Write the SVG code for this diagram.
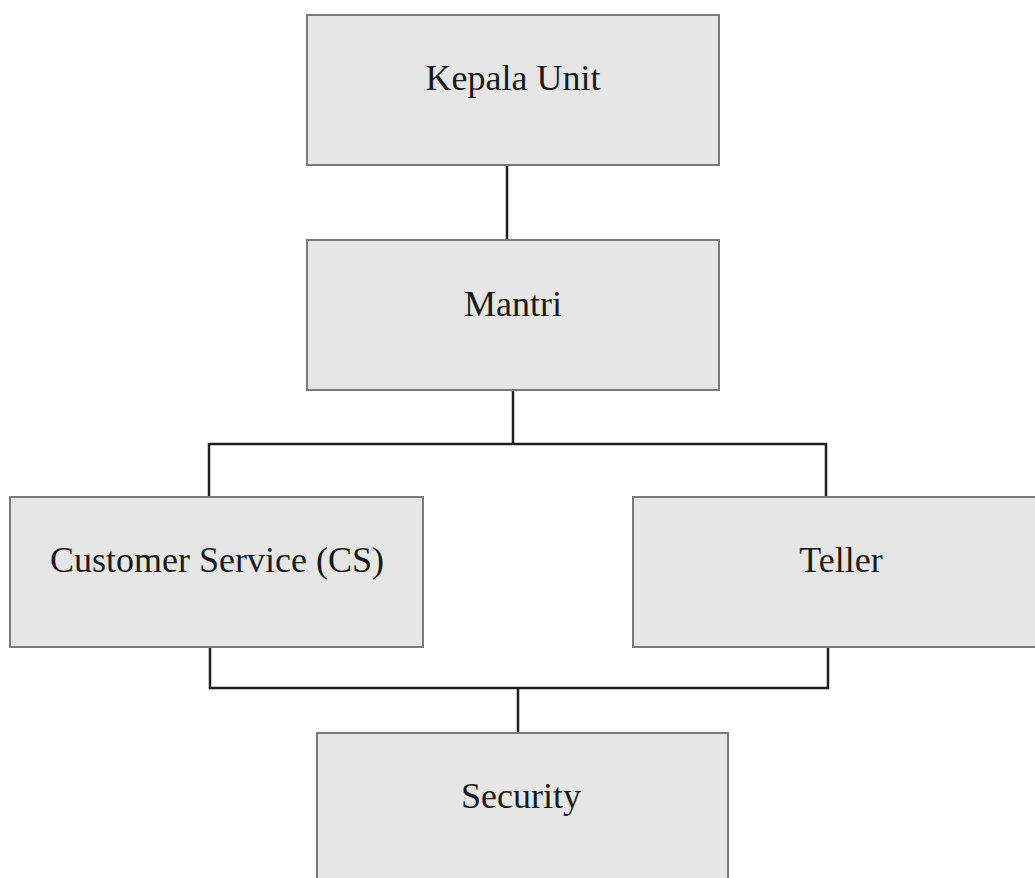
<svg xmlns="http://www.w3.org/2000/svg" width="1035" height="878" viewBox="0 0 1035 878">
<style>
.box{fill:#e6e6e6;stroke:#7a7a7a;stroke-width:2}
.lbl{font-family:"Liberation Serif","Times New Roman",serif;font-size:36px;fill:#1a1a1a;text-anchor:middle}
.conn{fill:none;stroke:#1f1f1f;stroke-width:2.5}
</style>
<rect width="1035" height="878" fill="#ffffff"/>
<g id="connectors">
<line class="conn" x1="507" y1="165" x2="507" y2="240"/>
<path class="conn" d="M513 390 V444 M209 497 V444 H826 V497"/>
<path class="conn" d="M210 647 V688 H828 V647 M518 688 V733"/>
</g>
<g id="kepala-unit">
<rect class="box" x="307" y="15" width="412" height="150"/>
<text class="lbl" x="513" y="90">Kepala Unit</text>
</g>
<g id="mantri">
<rect class="box" x="307" y="240" width="412" height="150"/>
<text class="lbl" x="513" y="316">Mantri</text>
</g>
<g id="customer-service">
<rect class="box" x="10" y="497" width="413" height="150"/>
<text class="lbl" x="217" y="572">Customer Service (CS)</text>
</g>
<g id="teller">
<rect class="box" x="633" y="497" width="410" height="150"/>
<text class="lbl" x="841" y="572">Teller</text>
</g>
<g id="security">
<rect class="box" x="317" y="733" width="411" height="160"/>
<text class="lbl" x="521" y="808">Security</text>
</g>
</svg>
